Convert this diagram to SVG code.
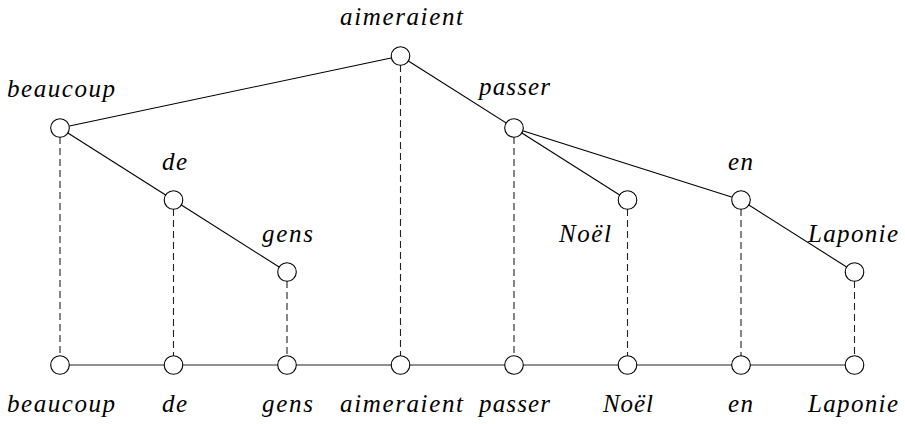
<svg xmlns="http://www.w3.org/2000/svg" width="905" height="424" viewBox="0 0 905 424">
<style>
.e{stroke:#000;stroke-width:1.1;fill:none}
.d{stroke:#222;stroke-width:1.1;stroke-dasharray:7,4;fill:none}
.b{stroke:#222;stroke-width:1.1;fill:none}
circle{fill:#fff;stroke:#000;stroke-width:1.1}
text{font-family:"Liberation Serif","Times New Roman",serif;font-style:italic;font-size:25px;fill:#000;text-anchor:middle}
</style>
<rect width="905" height="424" fill="#fff"/>
<g id="connectors">
<line class="b" x1="60" y1="365" x2="854.5" y2="365"/>
<line class="e" x1="400.5" y1="56" x2="60" y2="128"/>
<line class="e" x1="400.5" y1="56" x2="514" y2="128"/>
<line class="e" x1="60" y1="128" x2="173.5" y2="200"/>
<line class="e" x1="173.5" y1="200" x2="287" y2="272"/>
<line class="e" x1="514" y1="128" x2="627.5" y2="200"/>
<line class="e" x1="514" y1="128" x2="741" y2="200"/>
<line class="e" x1="741" y1="200" x2="854.5" y2="272"/>
<line class="d" x1="60" y1="137" x2="60" y2="356"/>
<line class="d" x1="173.5" y1="209" x2="173.5" y2="356"/>
<line class="d" x1="287" y1="281" x2="287" y2="356"/>
<line class="d" x1="400.5" y1="65" x2="400.5" y2="356"/>
<line class="d" x1="514" y1="137" x2="514" y2="356"/>
<line class="d" x1="627.5" y1="209" x2="627.5" y2="356"/>
<line class="d" x1="741" y1="209" x2="741" y2="356"/>
<line class="d" x1="854.5" y1="281" x2="854.5" y2="356"/>
</g>
<g id="t-aimeraient"><circle cx="400.5" cy="56" r="9.3"/><text x="401.5" y="25" textLength="123" lengthAdjust="spacing">aimeraient</text></g>
<g id="t-beaucoup"><circle cx="60" cy="128" r="9.3"/><text x="61" y="97" textLength="108" lengthAdjust="spacing">beaucoup</text></g>
<g id="t-de"><circle cx="173.5" cy="200" r="9.3"/><text x="174.5" y="170" textLength="25" lengthAdjust="spacing">de</text></g>
<g id="t-gens"><circle cx="287" cy="272" r="9.3"/><text x="287.5" y="242" textLength="51" lengthAdjust="spacing">gens</text></g>
<g id="t-passer"><circle cx="514" cy="128" r="9.3"/><text x="514.5" y="95" textLength="71" lengthAdjust="spacing">passer</text></g>
<g id="t-noel"><circle cx="627.5" cy="200" r="9.3"/><text x="585" y="242" textLength="52" lengthAdjust="spacing">Noël</text></g>
<g id="t-en"><circle cx="741" cy="200" r="9.3"/><text x="740.5" y="170" textLength="25" lengthAdjust="spacing">en</text></g>
<g id="t-laponie"><circle cx="854.5" cy="272" r="9.3"/><text x="853" y="242" textLength="90" lengthAdjust="spacing">Laponie</text></g>
<g id="w-beaucoup"><circle cx="60" cy="365" r="9.3"/><text x="61" y="412" textLength="108" lengthAdjust="spacing">beaucoup</text></g>
<g id="w-de"><circle cx="173.5" cy="365" r="9.3"/><text x="174.5" y="412" textLength="25" lengthAdjust="spacing">de</text></g>
<g id="w-gens"><circle cx="287" cy="365" r="9.3"/><text x="287.5" y="412" textLength="51" lengthAdjust="spacing">gens</text></g>
<g id="w-aimeraient"><circle cx="400.5" cy="365" r="9.3"/><text x="401.5" y="412" textLength="123" lengthAdjust="spacing">aimeraient</text></g>
<g id="w-passer"><circle cx="514" cy="365" r="9.3"/><text x="514.5" y="412" textLength="71" lengthAdjust="spacing">passer</text></g>
<g id="w-noel"><circle cx="627.5" cy="365" r="9.3"/><text x="628" y="412" textLength="50" lengthAdjust="spacing">Noël</text></g>
<g id="w-en"><circle cx="741" cy="365" r="9.3"/><text x="740.5" y="412" textLength="25" lengthAdjust="spacing">en</text></g>
<g id="w-laponie"><circle cx="854.5" cy="365" r="9.3"/><text x="853" y="412" textLength="90" lengthAdjust="spacing">Laponie</text></g>
</svg>
